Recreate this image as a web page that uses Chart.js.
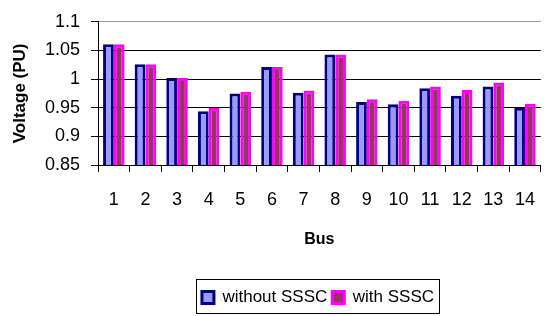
<!DOCTYPE html>
<html>
<head>
<meta charset="utf-8">
<script src="https://cdn.jsdelivr.net/npm/chart.js@4"></script>
<style>
  html, body { margin: 0; padding: 0; background: #fff; overflow: hidden; }
  #wrap { width: 552px; height: 316px; }
</style>
</head>
<body>
<div id="wrap"><canvas id="chart" width="552" height="316"></canvas></div>
<script>
// Data
const buses = ['1', '2', '3', '4', '5', '6', '7', '8', '9', '10', '11', '12', '13', '14'];
const withoutSSSC = [1.061, 1.026, 1.002, 0.944, 0.975, 1.021, 0.976, 1.043, 0.960, 0.956, 0.984, 0.971, 0.987, 0.950];
const withSSSC = [1.061, 1.026, 1.002, 0.950, 0.978, 1.021, 0.980, 1.043, 0.965, 0.962, 0.987, 0.981, 0.994, 0.957];
const yTicks = [0.85, 0.9, 0.95, 1, 1.05, 1.1];

const FONT = "'Liberation Sans', Arial, sans-serif";

// Shift the legend to the right and draw a frame round it
const legendFrame = {
    id: 'legendFrame',
    afterLayout(chart) {
        chart.legend.left += 42;
        chart.legend.right += 42;
    },
    afterDraw(chart) {
        const boxes = chart.legend.legendHitBoxes;
        if (!boxes || !boxes.length) return;
        const first = boxes[0];
        const last = boxes[boxes.length - 1];
        const ctx = chart.ctx;
        ctx.save();
        ctx.strokeStyle = '#000';
        ctx.lineWidth = 1;
        const x0 = Math.round(first.left - 6) + 0.5;
        const x1 = Math.round(last.left + last.width + 5) + 0.5;
        const y0 = Math.round(first.top - 10) + 0.5;
        ctx.strokeRect(x0, y0, x1 - x0, 34);
        ctx.restore();
    }
};

new Chart(document.getElementById('chart'), {
    type: 'bar',
    data: {
        labels: buses,
        datasets: [{
            label: 'without SSSC',
            data: withoutSSSC,
            backgroundColor: '#9999FF',
            borderColor: '#000080',
            borderWidth: 3
        }, {
            label: 'with SSSC',
            data: withSSSC,
            backgroundColor: '#993366',
            borderColor: '#FF00FF',
            borderWidth: 3
        }]
    },
    options: {
        responsive: false,
        animation: false,
        devicePixelRatio: 1,
        layout: { padding: { top: 19, right: 0, left: 0, bottom: 0 } },
        datasets: { bar: { categoryPercentage: 0.68, barPercentage: 1 } },
        scales: {
            x: {
                afterFit: s => { s.height = 119; },
                grid: { drawOnChartArea: false, drawTicks: true, tickLength: 7, color: '#000', tickColor: '#000' },
                border: { color: '#000', width: 1 },
                ticks: { color: '#000', font: { family: FONT, size: 18 }, padding: 17, maxRotation: 0 },
                title: {
                    display: true, text: 'Bus', color: '#000',
                    font: { family: FONT, size: 16, weight: 'bold' },
                    padding: { top: 0, bottom: 35 }
                }
            },
            y: {
                min: 0.85,
                max: 1.1,
                afterFit: s => { s.width = 98; },
                afterBuildTicks: s => { s.ticks = yTicks.map(v => ({ value: v })); },
                grid: {
                    color: c => (c.tick && c.tick.value === 1.1 ? '#999' : '#000'),
                    tickColor: '#000',
                    tickLength: 7,
                    drawTicks: true
                },
                border: { color: '#000', width: 1 },
                ticks: {
                    color: '#000',
                    font: { family: FONT, size: 18 },
                    padding: 11,
                    callback: v => String(Number(v.toFixed(2)))
                },
                title: {
                    display: true, text: 'Voltage (PU)', color: '#000',
                    font: { family: FONT, size: 17, weight: 'bold' },
                    padding: { top: 10, bottom: 0 }
                }
            }
        },
        plugins: {
            legend: {
                position: 'bottom',
                labels: {
                    color: '#000',
                    font: { family: FONT, size: 17 },
                    boxWidth: 12,
                    boxHeight: 12,
                    padding: 5
                }
            },
            tooltip: { enabled: false }
        }
    },
    plugins: [legendFrame]
});
</script>
</body>
</html>
